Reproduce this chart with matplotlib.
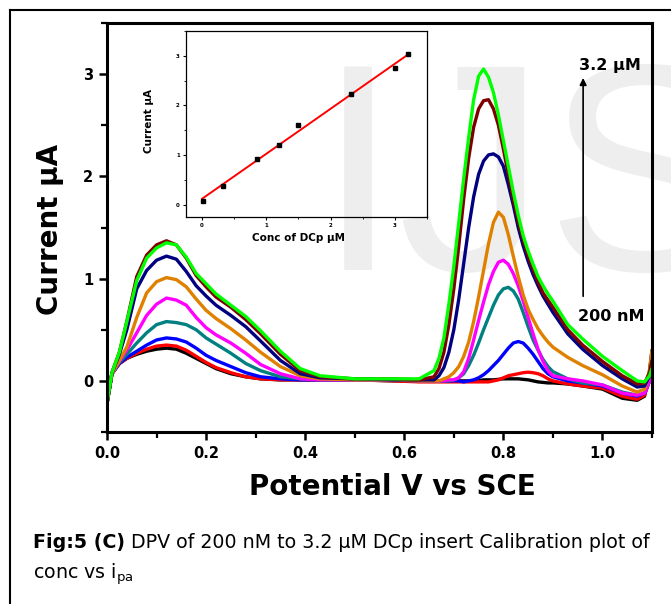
import numpy as np
import matplotlib.pyplot as plt
from matplotlib.lines import Line2D
from matplotlib.ticker import MultipleLocator

plt.rcParams['font.family'] = ['DejaVu Sans']
plt.rcParams['mathtext.default'] = 'regular'

potential = [0.00, 0.01, 0.025, 0.04, 0.06, 0.08, 0.10, 0.12, 0.14, 0.16, 0.18, 0.20, 0.22, 0.25, 0.28, 0.31,
             0.35, 0.39, 0.43, 0.50, 0.58, 0.63,
             0.66, 0.67, 0.68, 0.69, 0.70, 0.71, 0.72, 0.73, 0.74, 0.75, 0.76, 0.77, 0.78, 0.79, 0.80, 0.81,
             0.82, 0.83, 0.84, 0.85, 0.86, 0.87, 0.88, 0.89, 0.90,
             0.93, 0.96, 1.00, 1.04, 1.07, 1.085, 1.095, 1.10]

# current (uA), lowest to highest concentration
cur_black = [-0.22, 0.07, 0.17, 0.22, 0.26, 0.29, 0.31, 0.32, 0.31, 0.27, 0.22, 0.17, 0.12, 0.07, 0.04, 0.02,
             0.01, 0.01, 0.01, 0.01, 0.00, 0.00,
             0.00, 0.00, 0.00, 0.00, 0.00, 0.00, 0.00, 0.00, 0.00, 0.00, 0.01, 0.01, 0.01, 0.015, 0.02, 0.02,
             0.02, 0.02, 0.015, 0.01, 0.00, -0.01, -0.015, -0.02, -0.02,
             -0.03, -0.05, -0.08, -0.17, -0.19, -0.15, 0.10, 0.30]
cur_red = [-0.22, 0.07, 0.17, 0.22, 0.27, 0.31, 0.34, 0.35, 0.34, 0.30, 0.24, 0.18, 0.13, 0.08, 0.04, 0.02,
           0.01, 0.01, 0.01, 0.01, 0.00, -0.01,
           -0.01, -0.01, -0.01, -0.01, -0.01, -0.01, -0.01, -0.01, -0.01, -0.01, -0.01, -0.01, 0.00, 0.01, 0.03, 0.05,
           0.06, 0.07, 0.08, 0.085, 0.08, 0.07, 0.05, 0.02, 0.00,
           -0.03, -0.05, -0.07, -0.15, -0.18, -0.14, 0.00, 0.12]
cur_blue = [-0.22, 0.07, 0.17, 0.23, 0.29, 0.35, 0.40, 0.42, 0.41, 0.38, 0.32, 0.25, 0.20, 0.14, 0.08, 0.04,
            0.02, 0.01, 0.01, 0.01, 0.01, 0.00,
            0.00, 0.00, 0.00, 0.00, 0.00, 0.00, -0.01, 0.00, 0.01, 0.03, 0.06, 0.10, 0.15, 0.20, 0.26, 0.32,
            0.37, 0.385, 0.37, 0.32, 0.26, 0.19, 0.12, 0.07, 0.04,
            0.00, -0.02, -0.05, -0.12, -0.15, -0.12, 0.00, 0.10]
cur_teal = [-0.22, 0.07, 0.18, 0.26, 0.37, 0.47, 0.55, 0.58, 0.57, 0.55, 0.50, 0.42, 0.36, 0.27, 0.17, 0.10,
            0.04, 0.02, 0.01, 0.01, 0.01, 0.00,
            0.00, 0.00, 0.00, 0.00, 0.01, 0.03, 0.07, 0.15, 0.25, 0.37, 0.50, 0.62, 0.74, 0.84, 0.90, 0.915,
            0.88, 0.80, 0.67, 0.53, 0.40, 0.30, 0.21, 0.14, 0.09,
            0.02, -0.02, -0.04, -0.11, -0.14, -0.12, 0.00, 0.10]
cur_magenta = [-0.22, 0.07, 0.19, 0.30, 0.47, 0.64, 0.75, 0.81, 0.79, 0.74, 0.62, 0.52, 0.45, 0.37, 0.27, 0.16,
               0.07, 0.02, 0.01, 0.01, 0.01, 0.00,
               0.00, 0.00, 0.00, 0.01, 0.01, 0.03, 0.09, 0.22, 0.40, 0.59, 0.77, 0.94, 1.07, 1.16, 1.18, 1.14,
               1.05, 0.93, 0.78, 0.62, 0.46, 0.31, 0.19, 0.10, 0.05,
               0.02, 0.00, -0.04, -0.12, -0.14, -0.12, 0.00, 0.12]
cur_orange = [-0.22, 0.07, 0.20, 0.33, 0.62, 0.86, 0.97, 1.01, 0.99, 0.92, 0.80, 0.69, 0.61, 0.51, 0.40, 0.28,
              0.14, 0.05, 0.02, 0.01, 0.01, 0.00,
              0.00, 0.00, 0.02, 0.04, 0.08, 0.14, 0.24, 0.38, 0.58, 0.82, 1.08, 1.34, 1.55, 1.65, 1.60, 1.43,
              1.22, 1.02, 0.84, 0.70, 0.60, 0.51, 0.44, 0.38, 0.33,
              0.23, 0.15, 0.06, -0.05, -0.11, -0.08, 0.10, 0.30]
cur_navy = [-0.22, 0.08, 0.26, 0.50, 0.90, 1.08, 1.18, 1.22, 1.19, 1.07, 0.93, 0.83, 0.74, 0.64, 0.53, 0.39,
            0.20, 0.07, 0.03, 0.02, 0.01, 0.01,
            0.01, 0.05, 0.13, 0.28, 0.50, 0.80, 1.15, 1.50, 1.80, 2.02, 2.15, 2.21, 2.22, 2.19, 2.10, 1.92,
            1.72, 1.50, 1.32, 1.17, 1.04, 0.93, 0.83, 0.75, 0.67,
            0.46, 0.31, 0.15, 0.02, -0.06, -0.05, 0.05, 0.15]
cur_maroon = [-0.22, 0.08, 0.28, 0.58, 1.02, 1.23, 1.33, 1.37, 1.33, 1.20, 1.03, 0.92, 0.82, 0.72, 0.60, 0.46,
              0.26, 0.10, 0.04, 0.02, 0.02, 0.01,
              0.04, 0.12, 0.28, 0.55, 0.90, 1.32, 1.78, 2.18, 2.48, 2.66, 2.74, 2.75, 2.66, 2.50, 2.27, 2.02,
              1.78, 1.56, 1.38, 1.22, 1.09, 0.97, 0.86, 0.79, 0.72,
              0.50, 0.35, 0.19, 0.05, -0.03, -0.02, 0.08, 0.20]
cur_green = [-0.22, 0.08, 0.28, 0.58, 0.98, 1.20, 1.30, 1.35, 1.33, 1.21, 1.05, 0.95, 0.85, 0.74, 0.63, 0.49,
             0.29, 0.12, 0.05, 0.02, 0.02, 0.02,
             0.10, 0.22, 0.42, 0.75, 1.12, 1.55, 1.98, 2.38, 2.75, 2.98, 3.05, 2.97, 2.82, 2.60, 2.35, 2.10,
             1.85, 1.62, 1.42, 1.27, 1.14, 1.02, 0.93, 0.85, 0.78,
             0.55, 0.41, 0.24, 0.10, 0.00, -0.01, 0.05, 0.12]

traces = [cur_black, cur_red, cur_blue, cur_teal, cur_magenta, cur_orange, cur_navy, cur_maroon, cur_green]
trace_colors = ['#000000', '#ff0000', '#0000ff', '#008080', '#ff00ff', '#e08000', '#000080', '#800000', '#00ff00']

# calibration inset: concentration (uM) vs peak current (uA)
conc = [0.02, 0.32, 0.85, 1.20, 1.50, 2.32, 3.00, 3.20]
ipa = [0.08, 0.38, 0.92, 1.20, 1.60, 2.23, 2.75, 3.04]

W, H = 671, 604
fig = plt.figure(figsize=(W / 100, H / 100), dpi=100)

# faint journal watermark behind everything
fig.text(317 / W, 1 - 270 / H, 'IJS', fontsize=213, family='Liberation Sans', color='#eeeeee',
         ha='left', va='baseline', zorder=-10)

# page frame
fig.add_artist(Line2D([10 / W, 1.0], [1 - 10 / H, 1 - 10 / H], color='black', lw=1.5))
fig.add_artist(Line2D([10 / W, 10 / W], [1 - 10 / H, 0.0], color='black', lw=1.5))

# main DPV axes
ax = fig.add_axes([107 / W, 1 - 432 / H, 545 / W, 409 / H])
ax.set_facecolor('none')
for cur, col in zip(traces, trace_colors):
    ax.plot(potential, cur, color=col, lw=2.4, solid_joinstyle='round', solid_capstyle='round')

ax.set_xlim(0, 1.1)
ax.set_ylim(-0.5, 3.5)
ax.xaxis.set_major_locator(MultipleLocator(0.2))
ax.xaxis.set_minor_locator(MultipleLocator(0.1))
ax.set_yticks([0, 1, 2, 3])
ax.yaxis.set_minor_locator(MultipleLocator(0.5))
for sp in ax.spines.values():
    sp.set_linewidth(2.2)
ax.tick_params(which='major', direction='out', length=6, width=1.8, labelsize=10.5, pad=4)
ax.tick_params(which='minor', direction='out', length=4.5, width=1.6)
for lab in ax.get_xticklabels() + ax.get_yticklabels():
    lab.set_fontweight('bold')

ax.set_xlabel('Potential V vs SCE', fontsize=20, fontweight='bold')
ax.xaxis.set_label_coords((392 - 107) / 545, -(487 - 432) / 409)
ax.xaxis.label.set_va('center')
ax.set_ylabel('Current \u03bcA', fontsize=20, fontweight='bold')
ax.yaxis.set_label_coords((50 - 107) / 545, (432 - 229) / 409)
ax.yaxis.label.set_va('center')

# concentration arrow
ax.annotate('', xy=(0.961, 2.99), xytext=(0.961, 0.80),
            arrowprops=dict(arrowstyle='-|>', lw=1.2, color='black', mutation_scale=10))
ax.text(0.953, 3.08, '3.2 \u03bcM', fontsize=11.5, fontweight='bold', ha='left', va='center')
ax.text(0.951, 0.63, '200 nM', fontsize=11.5, fontweight='bold', ha='left', va='center')

# calibration inset
ins = fig.add_axes([186 / W, 1 - 217 / H, 241 / W, 186 / H])
ins.set_facecolor('none')
slope, icpt = np.polyfit(conc, ipa, 1)
fit_x = np.array([0.0, max(conc)])
ins.plot(fit_x, slope * fit_x + icpt, color='#ff0000', lw=1.4)
ins.plot(conc, ipa, 's', color='black', ms=3.5)
ins.set_xlim(-0.25, 3.5)
ins.set_ylim(-0.25, 3.5)
ins.set_xticks([0, 1, 2, 3])
ins.set_yticks([0, 1, 2, 3])
ins.xaxis.set_minor_locator(MultipleLocator(0.5))
ins.yaxis.set_minor_locator(MultipleLocator(0.5))
for sp in ins.spines.values():
    sp.set_linewidth(0.9)
ins.tick_params(which='major', direction='out', length=2.5, width=0.8, labelsize=4, pad=2)
ins.tick_params(which='minor', direction='out', length=1.5, width=0.6)
for lab in ins.get_xticklabels() + ins.get_yticklabels():
    lab.set_fontweight('bold')
ins.set_xlabel('Conc of DCp \u03bcM', fontsize=7.5, fontweight='bold')
ins.xaxis.set_label_coords((299 - 186) / 241, -(238 - 217) / 186)
ins.xaxis.label.set_va('center')
ins.set_ylabel('Current \u03bcA', fontsize=7.5, fontweight='bold')
ins.yaxis.set_label_coords((149 - 186) / 241, (217 - 121) / 186)
ins.yaxis.label.set_va('center')

# caption below the figure
cap_size = 13.7
cap_bold = fig.text(33 / W, 1 - 548 / H, 'Fig:5 (C)', fontsize=cap_size, fontweight='bold',
                    ha='left', va='baseline')
fig.canvas.draw()
bb = cap_bold.get_window_extent(fig.canvas.get_renderer())
fig.text(bb.x1 / W, 1 - 548 / H, ' DPV of 200 nM to 3.2 \u03bcM DCp insert Calibration plot of',
         fontsize=cap_size, ha='left', va='baseline')
fig.text(33 / W, 1 - 579 / H, 'conc vs i$_{pa}$', fontsize=cap_size, ha='left', va='baseline')

fig.savefig('out.png', dpi=100)
